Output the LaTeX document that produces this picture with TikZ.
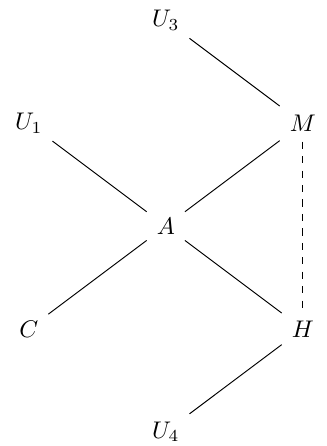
\documentclass[tikz,border=0pt]{standalone}
\usepackage{amsmath,amssymb}
\usetikzlibrary{positioning}

\begin{document}
\begin{tikzpicture}[
  vert/.style={inner sep=4pt},
  link/.style={draw, thin}
]
\useasboundingbox (-2.42,-3.21) rectangle (2.34,3.30);

\node[vert] (A)  at (0,0)      {$A$};
\node[vert] (U1) at (-2,1.5)   {$U_1$};
\node[vert] (M)  at (2,1.5)    {$M$};
\node[vert] (U3) at (0,3)      {$U_3$};
\node[vert] (C)  at (-2,-1.5)  {$C$};
\node[vert] (H)  at (2,-1.5)   {$H$};
\node[vert] (U4) at (0,-3)     {$U_4$};

\draw[link] (U3) -- (M);
\draw[link] (U1) -- (A);
\draw[link] (A) -- (M);
\draw[link] (A) -- (C);
\draw[link] (A) -- (H);
\draw[link, dashed] (M) -- (H);
\draw[link] (H) -- (U4);
\end{tikzpicture}
\end{document}
